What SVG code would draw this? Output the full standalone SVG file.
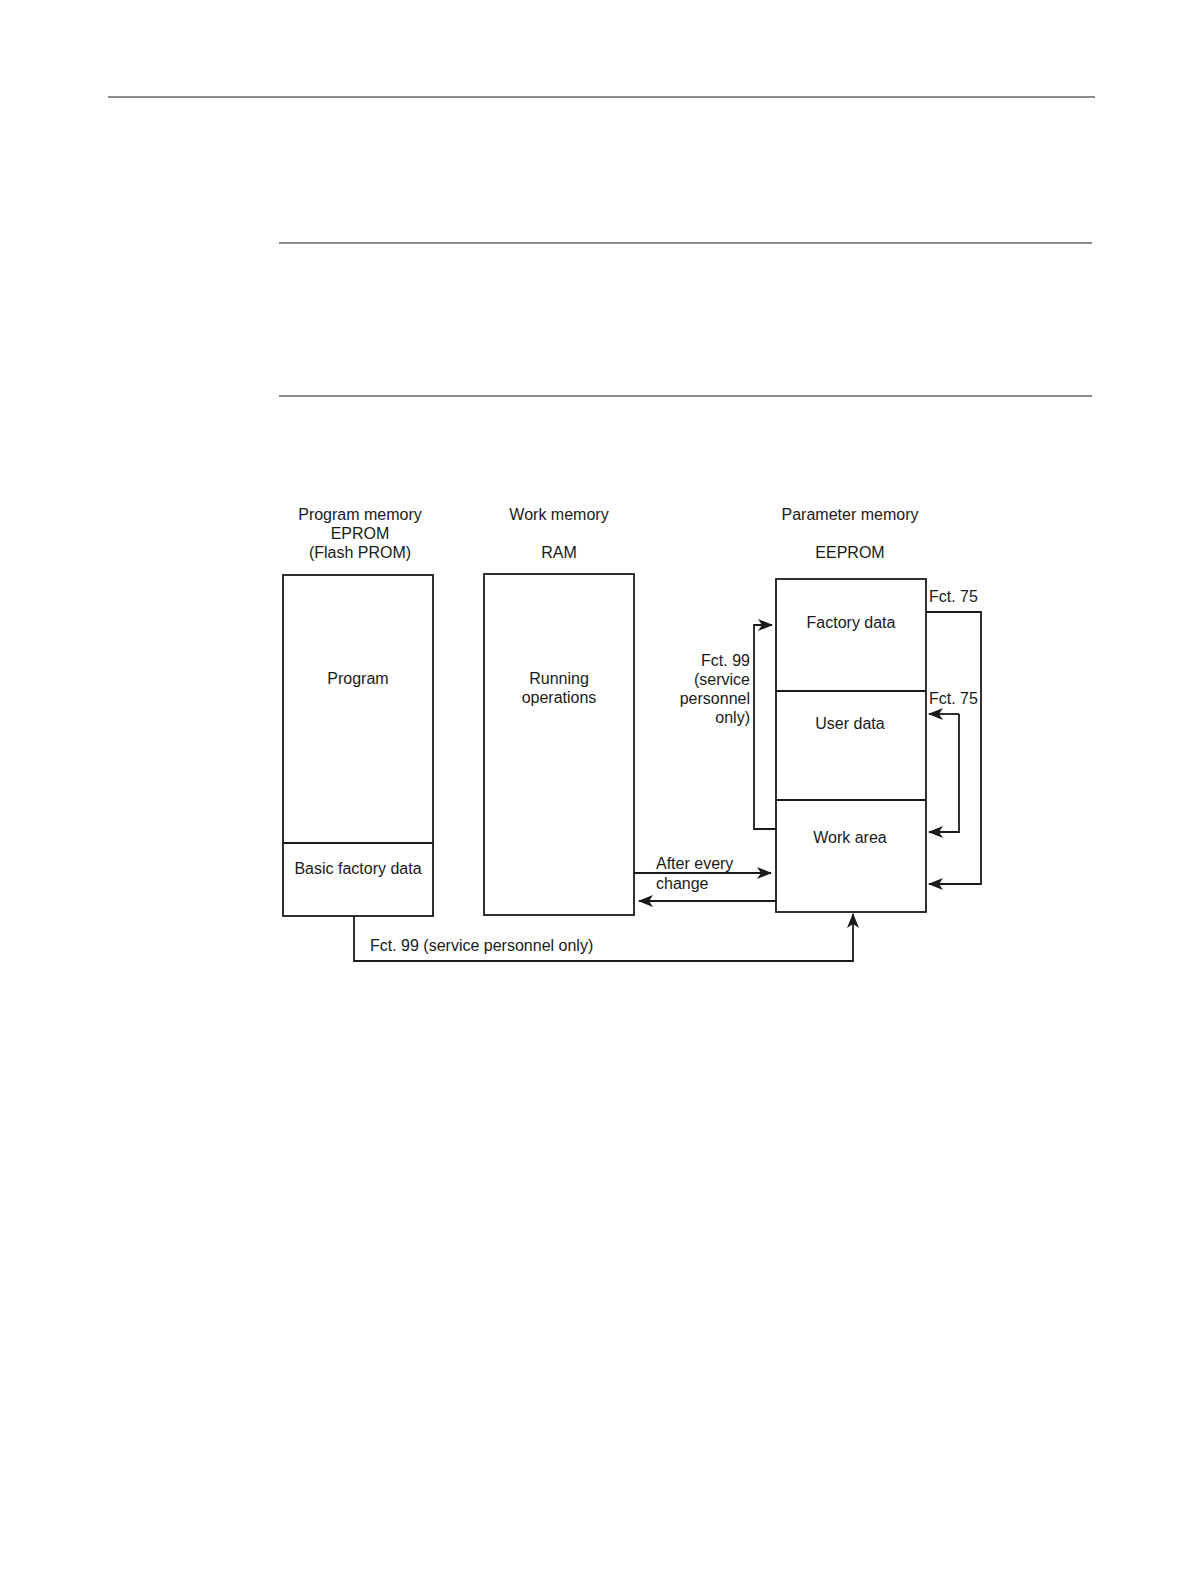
<svg xmlns="http://www.w3.org/2000/svg" width="1191" height="1587" viewBox="0 0 1191 1587">
<style>
text{font-family:"Liberation Sans",Arial,sans-serif;font-size:16px;fill:#1a1a1a}
.c{text-anchor:middle}
.r{text-anchor:end}
.box{fill:none;stroke:#1a1a1a;stroke-width:1.8}
.rule{stroke:#1a1a1a;stroke-width:1.2}
.wire{fill:none;stroke:#1a1a1a;stroke-width:1.8}
</style>
<defs>
<marker id="ah" viewBox="0 0 15 12" refX="14" refY="6" markerWidth="15" markerHeight="12" markerUnits="userSpaceOnUse" orient="auto">
<path d="M0,0 L15,6 L0,12 L4,6 Z" fill="#1a1a1a"/>
</marker>
</defs>
<rect width="1191" height="1587" fill="#fff"/>
<line class="rule" x1="108" y1="97" x2="1095" y2="97"/>
<line class="rule" x1="279" y1="243" x2="1092" y2="243"/>
<line class="rule" x1="279" y1="396" x2="1092" y2="396"/>

<g id="headers">
<text class="c" x="360" y="520">Program memory</text>
<text class="c" x="360" y="539">EPROM</text>
<text class="c" x="360" y="558">(Flash PROM)</text>
<text class="c" x="559" y="520">Work memory</text>
<text class="c" x="559" y="558">RAM</text>
<text class="c" x="850" y="520">Parameter memory</text>
<text class="c" x="850" y="558">EEPROM</text>
</g>

<g id="program-memory">
<rect class="box" x="283" y="575" width="150" height="341"/>
<line class="box" x1="283" y1="843" x2="433" y2="843"/>
<text class="c" x="358" y="684">Program</text>
<text class="c" x="358" y="874">Basic factory data</text>
</g>

<g id="work-memory">
<rect class="box" x="484" y="574" width="150" height="341"/>
<text class="c" x="559" y="684">Running</text>
<text class="c" x="559" y="703">operations</text>
</g>

<g id="parameter-memory">
<rect class="box" x="776" y="579" width="150" height="333"/>
<line class="box" x1="776" y1="691" x2="926" y2="691"/>
<line class="box" x1="776" y1="800" x2="926" y2="800"/>
<text class="c" x="851" y="628">Factory data</text>
<text class="c" x="850" y="729">User data</text>
<text class="c" x="850" y="843">Work area</text>
</g>

<g id="connectors">
<polyline class="wire" points="776,829 754,829 754,625 772,625" marker-end="url(#ah)"/>
<polyline class="wire" points="926,612 981,612 981,884 929,884" marker-end="url(#ah)"/>
<polyline class="wire" points="959,714 959,832 929,832" marker-end="url(#ah)"/>
<line class="wire" x1="959" y1="714" x2="929" y2="714" marker-end="url(#ah)"/>
<line class="wire" x1="634" y1="873" x2="771" y2="873" marker-end="url(#ah)"/>
<line class="wire" x1="776" y1="901" x2="639" y2="901" marker-end="url(#ah)"/>
<polyline class="wire" points="354,916 354,961 853,961 853,914" marker-end="url(#ah)"/>
</g>

<g id="labels">
<text x="929" y="602">Fct. 75</text>
<text x="929" y="704">Fct. 75</text>
<text class="r" x="750" y="666">Fct. 99</text>
<text class="r" x="750" y="685">(service</text>
<text class="r" x="750" y="704">personnel</text>
<text class="r" x="750" y="723">only)</text>
<text x="656" y="869">After every</text>
<text x="656" y="889">change</text>
<text x="370" y="951">Fct. 99 (service personnel only)</text>
</g>
</svg>
